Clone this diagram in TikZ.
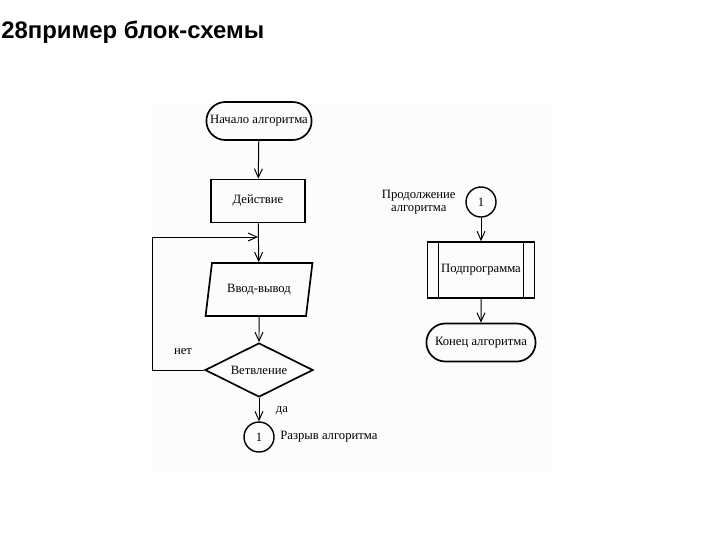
\documentclass[tikz,border=0pt]{standalone}
\usepackage{fontspec}
\setmainfont{Liberation Serif}
\newfontfamily\titlefont{Liberation Sans}
\usetikzlibrary{shapes, shapes.geometric, shapes.misc, arrows, arrows.meta, positioning}

\begin{document}
\begin{tikzpicture}[x=0.025cm, y=-0.025cm, >={Straight Barb[length=2.2mm, width=2mm]},
			terminal/.style={draw, line width=1.2pt, rounded rectangle, minimum width=2.7cm, minimum height=0.95cm, inner sep=1pt, font=\fontsize{9}{10}\selectfont},
			action/.style={draw, line width=1.2pt, rectangle, minimum width=2.35cm, minimum height=1.075cm, font=\fontsize{9}{10}\selectfont},
			inout/.style={draw, line width=1.2pt, trapezium, trapezium left angle=68, trapezium right angle=112, trapezium stretches=true, minimum width=2.675cm, minimum height=1.325cm, inner sep=0pt, font=\fontsize{9}{10}\selectfont},
			branch/.style={draw, line width=1.2pt, diamond, aspect=2, minimum width=2.7cm, minimum height=1.35cm, inner sep=0pt, font=\fontsize{9}{10}\selectfont},
			connector/.style={draw, line width=1pt, circle, minimum size=0.75cm, inner sep=0pt, font=\fontsize{9}{10}\selectfont},
			subprog/.style={draw, line width=1.2pt, rectangle, minimum width=2.675cm, minimum height=1.4cm, font=\fontsize{9}{10}\selectfont},
			caption/.style={inner sep=1pt, font=\fontsize{9}{9.5}\selectfont},
			flow/.style={->, line width=0.7pt}
			]
			\useasboundingbox (0,0) rectangle (720,540);
			\fill[gray!2] (152,104) rectangle (552,472);
			\node [anchor=west, inner sep=0pt, font=\titlefont\bfseries\fontsize{17}{19}\selectfont](title) at (1,32) {28пример блок-схемы};
			% left column
			\node [terminal](start) at (259,121) {Начало алгоритма};
			\node [action](act) at (258,201) {Действие};
			\node [inout](io) at (259,289.5) {Ввод-вывод};
			\node [branch](dec) at (259,370) {Ветвление};
			\node [connector](brk) at (259,437) {1};
			\node [caption](brktext) [right=0.1cm of brk] {Разрыв алгоритма};
			\node [caption](no) at (183,352) {нет};
			\node [caption](yes) at (282,411) {да};
			\coordinate (join) at (258,237);
			\coordinate (back) at (152,237);
			\draw[flow] (start) -- (act);
			\draw[flow] (act) -- (io);
			\draw[flow] (io) -- (dec);
			\draw[flow] (dec.west) -| (back) -- (join);
			\draw[flow] (dec) -- (brk);
			% right column
			\node [connector](cont) at (481,202) {1};
			\node [caption, align=center](conttext) [left=0.2cm of cont] {Продолжение\\алгоритма};
			\node [subprog](sub) at (481,270) {Подпрограмма};
			\draw[line width=1.2pt] ([xshift=0.3cm]sub.north west) -- ([xshift=0.3cm]sub.south west);
			\draw[line width=1.2pt] ([xshift=-0.3cm]sub.north east) -- ([xshift=-0.3cm]sub.south east);
			\node [terminal, minimum width=2.8cm](fin) at (481,342.5) {Конец алгоритма};
			\draw[flow] (cont) -- (sub);
			\draw[flow] (sub) -- (fin);
		\end{tikzpicture}
\end{document}
